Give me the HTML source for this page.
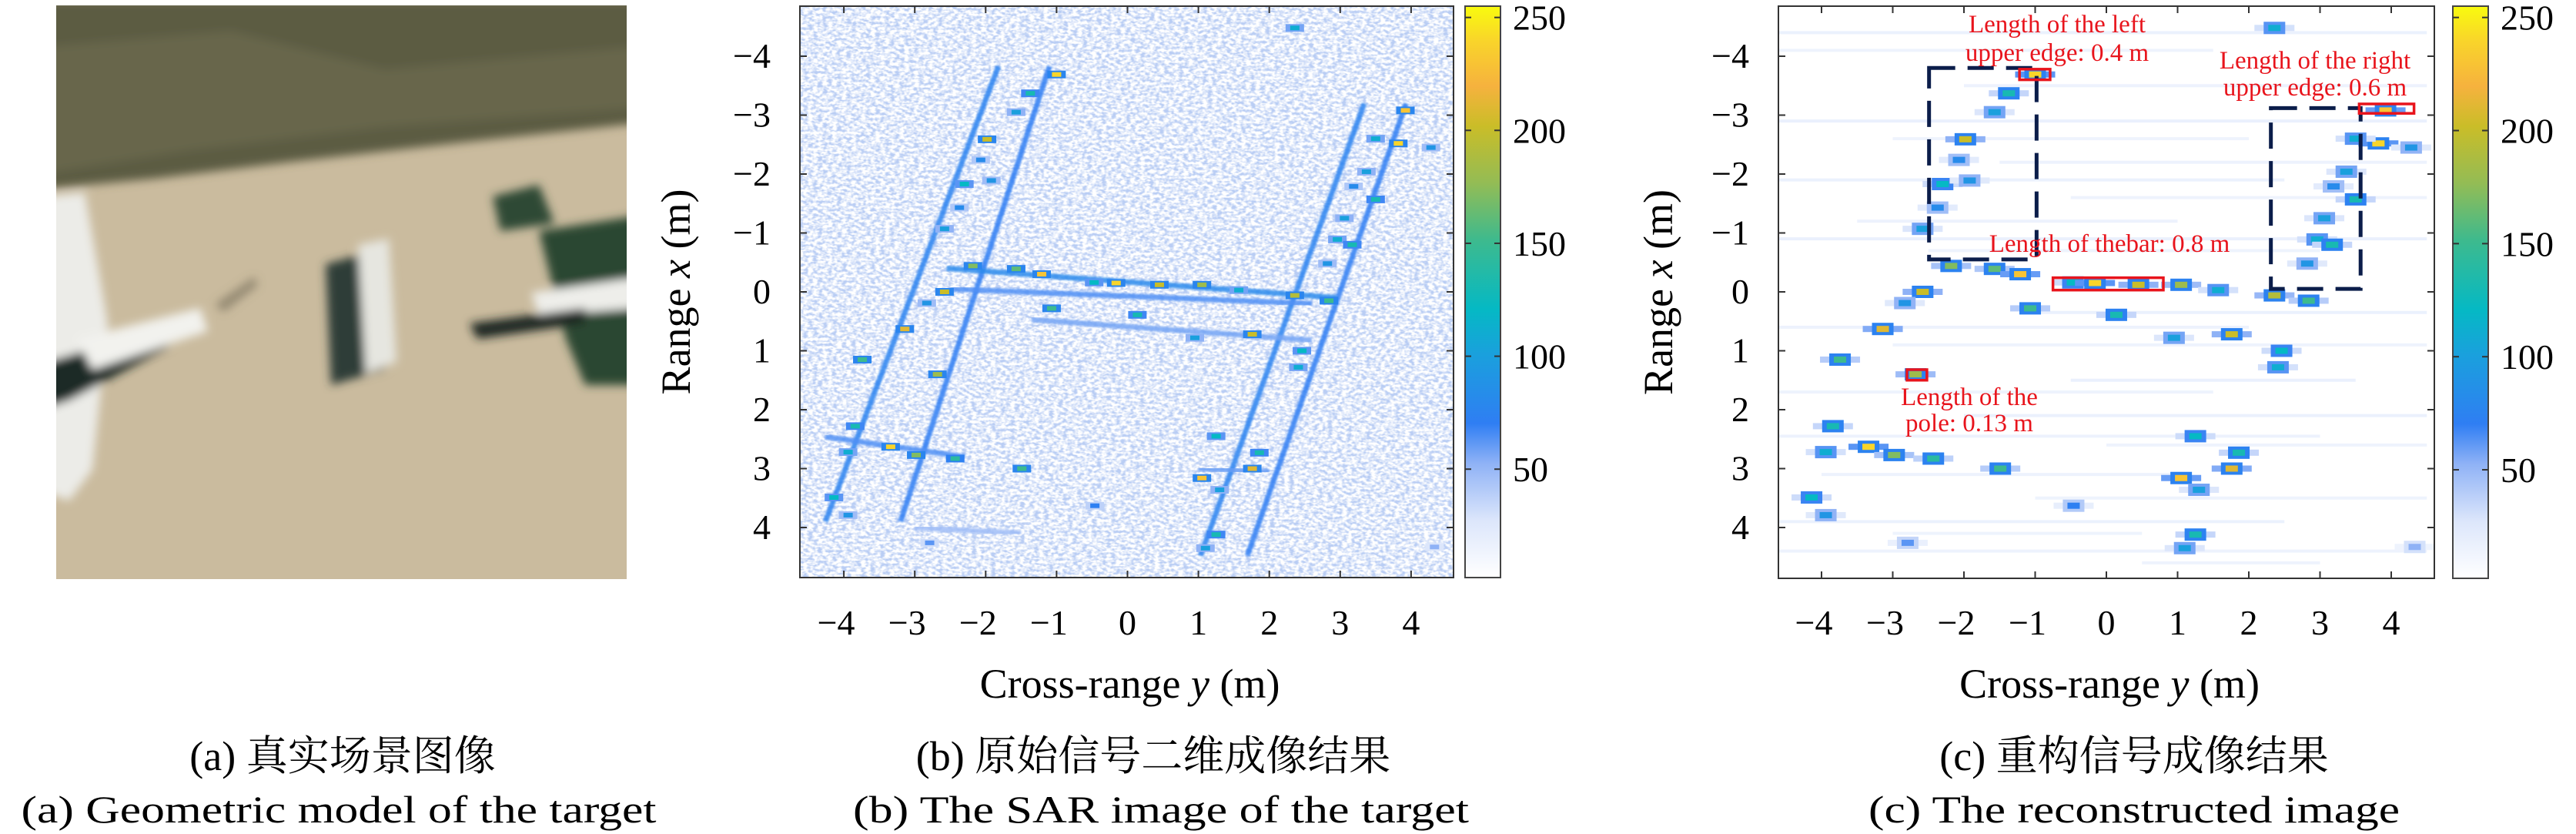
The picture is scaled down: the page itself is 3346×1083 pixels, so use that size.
<!DOCTYPE html>
<html><head><meta charset="utf-8">
<style>
html,body{margin:0;padding:0;background:#fff;}
body{width:3346px;height:1083px;overflow:hidden;position:relative;font-family:"Liberation Serif","Noto Serif CJK SC",serif;}
svg{position:absolute;left:0;top:0;}
svg text{font-family:"Liberation Serif","Noto Serif CJK SC",serif;}
</style></head>
<body>
<svg id="fig" width="3346" height="1083" viewBox="0 0 3346 1083" xmlns="http://www.w3.org/2000/svg" font-family="Liberation Serif, Noto Serif CJK SC, serif">
<defs>
  <filter id="noise" x="0" y="0" width="100%" height="100%">
    <feTurbulence type="fractalNoise" baseFrequency="0.16 0.28" numOctaves="2" seed="3"/>
    <feColorMatrix type="matrix" values="0 0 0 0 1  0 0 0 0 1  0 0 0 0 1  3.0 0 0 0 -0.9"/>
  </filter>
  <filter id="blur1"><feGaussianBlur stdDeviation="1.2"/></filter>
  <filter id="blur2"><feGaussianBlur stdDeviation="2"/></filter>
  <filter id="photoBlur"><feGaussianBlur stdDeviation="6"/></filter>
  <linearGradient id="cmapGrad" x1="0" y1="1" x2="0" y2="0">
    <stop offset="0" stop-color="#ffffff"/>
    <stop offset="0.1" stop-color="#dce6fb"/>
    <stop offset="0.2" stop-color="#8fb2f6"/>
    <stop offset="0.27" stop-color="#2f7ef3"/>
    <stop offset="0.39" stop-color="#1aa0dd"/>
    <stop offset="0.47" stop-color="#05b9c4"/>
    <stop offset="0.59" stop-color="#3dba8e"/>
    <stop offset="0.69" stop-color="#93bc55"/>
    <stop offset="0.79" stop-color="#cabd28"/>
    <stop offset="0.86" stop-color="#f6b23e"/>
    <stop offset="0.94" stop-color="#f9d52a"/>
    <stop offset="1" stop-color="#f9fb0e"/>
  </linearGradient>
  <clipPath id="clipB"><rect x="1039" y="8" width="849" height="742"/></clipPath>
  <clipPath id="clipC"><rect x="2310" y="8" width="852" height="743"/></clipPath>
  <clipPath id="clipA"><rect x="73" y="7" width="741" height="745"/></clipPath>
</defs>

<!-- (a) photo -->
<g clip-path="url(#clipA)">
  <rect x="73" y="7" width="741" height="745" fill="#cabb9e"/>
  <g filter="url(#photoBlur)">
  <polygon points="60,0 830,0 830,160 600,185 380,210 200,232 60,245" fill="#5b5c43"/>
  <polygon points="60,60 300,40 500,90 830,60 830,140 500,165 250,195 60,225" fill="#6c6b4f" opacity="0.7"/>
  <polygon points="60,255 110,250 140,420 120,610 90,650 60,640" fill="#ecece8"/>
  <polygon points="60,470 200,430 220,450 90,520 60,530" fill="#1f2a25"/>
  <polygon points="100,440 260,400 270,430 120,480" fill="#f2f2ee"/>
  <polygon points="423,343 490,325 500,480 430,500" fill="#2f3d38"/>
  <polygon points="465,318 505,310 515,470 475,485" fill="#e6e6e0"/>
  <polygon points="700,300 830,280 830,500 760,500 735,440" fill="#2c4633"/>
  <polygon points="640,255 700,240 720,290 650,300" fill="#2f4a36"/>
  <polygon points="690,380 830,360 830,400 700,410" fill="#eeeeea"/>
  <polygon points="610,420 760,400 760,420 620,440" fill="#1f2520"/>
  <polygon points="280,395 330,360 335,370 290,405" fill="#6d6552" opacity="0.6"/>
  </g>
</g>

<g id="plotB"></g>
<g id="plotC"></g>

<!-- colorbars -->
<g>
  <rect x="1903" y="8" width="46" height="742" fill="url(#cmapGrad)" stroke="#444" stroke-width="2"/>
</g>
<g>
  <rect x="3186" y="8" width="46" height="743" fill="url(#cmapGrad)" stroke="#444" stroke-width="2"/>
</g>
<g id="cbticks"></g>

<!-- captions -->
<g font-size="50" text-anchor="middle" fill="#000">
  <text x="445" y="1000" font-size="54">(a) 真实场景图像</text>
  <text x="440" y="1068" textLength="825" lengthAdjust="spacingAndGlyphs">(a) Geometric model of the target</text>
  <text x="1498" y="1000" font-size="54">(b) 原始信号二维成像结果</text>
  <text x="1508" y="1068" textLength="800" lengthAdjust="spacingAndGlyphs">(b) The SAR image of the target</text>
  <text x="2772" y="1000" font-size="54">(c) 重构信号成像结果</text>
  <text x="2772" y="1068" textLength="690" lengthAdjust="spacingAndGlyphs">(c) The reconstructed image</text>
</g>
</svg>

<script>
// ---- data ----
const xTicks = [-4,-3,-2,-1,0,1,2,3,4];           // cross-range y (m)
const yTicks = [-4,-3,-2,-1,0,1,2,3,4];           // range x (m)
const cbTicks = [50,100,150,200,250];
// structure segments in SAR image (b)
const segY0 = [-1.82,-1.1,3.34,3.93,-2.55,-2.5,-1.35,-4.26,1.0,-3.0];
const segX0 = [-3.83,-3.83,-3.2,-3.2,-0.40,-0.05,0.47,2.46,3.0,4.0];
const segY1 = [-4.26,-3.2,1.03,1.69,2.95,2.6,2.6,-2.29,2.0,-1.5];
const segX1 = [3.9,3.9,4.48,4.48,0.1,0.2,0.82,2.8,3.05,4.1];
const segVal = [72,68,72,68,78,62,55,62,58,45];
// bright scatterers: cross-range y, range x, amplitude
const spotY = [-1.0,2.36,-1.57,-1.37,-1.98,-2.07,-2.3,-1.92,-2.37,-2.58,-2.18,-1.57,-1.21,-2.58,-2.83,-3.14,-1.07,0.14,-0.47,-0.16,0.45,1.05,1.57,2.36,2.84,1.76,0.95,2.46,2.41,-3.74,-2.68,-3.84,-3.34,-2.98,-2.43,-3.94,-1.49,-4.14,-3.94,1.25,1.05,1.76,1.86,1.3,1.25,1.1,3.92,3.82,3.5,3.37,3.19,3.5,3.06,2.96,3.17,2.82,4.28,-0.46,-2.79,4.33];
const spotX = [-3.69,-4.48,-3.05,-3.37,-2.59,-2.24,-1.83,-1.89,-1.43,-1.07,-0.44,-0.39,-0.3,0.0,0.19,0.63,0.28,0.39,-0.16,-0.15,-0.12,-0.12,-0.03,0.06,0.15,0.72,0.78,1.0,1.28,1.15,1.4,2.28,2.63,2.77,2.83,2.72,3.0,3.49,3.79,2.45,3.16,3.0,2.73,3.36,4.12,4.35,-3.08,-2.52,-2.6,-2.04,-1.79,-1.57,-1.25,-0.89,-0.8,-0.48,-2.45,3.63,4.26,4.33];
const spotVal = [240,110,100,130,200,80,120,90,80,100,170,160,230,200,90,210,150,130,120,240,200,180,110,190,150,200,100,120,110,150,180,130,240,170,140,110,150,120,90,120,230,210,130,100,130,100,230,240,110,100,80,130,100,110,130,90,90,70,60,50];
// faint horizontal streaks in reconstructed image
const strY0 = [-4.6,-4.6,-2.0,-4.6,-3.0,-1.5,-4.6,-0.5,-3.5,-4.6,-2.5,-1.0,-4.6,-3.0,-0.5,-4.6,-2.0,-4.6,0.0,-4.0,-1.0,-4.6,-3.0,-4.6,0.5];
const strX0 = [-4.4,-4.1,-3.5,-2.9,-2.6,-2.2,-1.9,-1.6,-1.2,-0.9,-0.7,0.35,0.6,0.9,1.5,1.7,2.1,2.45,2.6,3.1,3.5,3.9,4.1,4.4,4.6];
const strY1 = [4.5,1.5,4.5,4.5,2.0,4.5,2.5,4.5,1.0,4.5,3.0,4.5,2.0,4.5,3.5,1.5,4.5,3.0,4.5,1.0,4.5,2.5,0.5,4.5,3.0];
const strVal = [14,12,13,15,12,13,14,12,13,15,12,14,13,12,15,12,14,13,12,13,12,14,12,13,12];
// annotation boxes (data coords)
const dashY0 = [-2.49,2.31], dashY1 = [-0.98,3.57], dashX0 = [-3.8,-3.12], dashX1 = [-0.55,-0.05];
const redY0 = [-1.22,3.55,-0.75,-2.8], redY1 = [-0.79,4.32,0.8,-2.52], redX0 = [-3.78,-3.19,-0.24,1.32], redX1 = [-3.6,-3.03,-0.03,1.5];

// ---- colormap ----
const cStops=[[0,[255,255,255]],[25,[220,230,251]],[50,[143,178,246]],[68,[47,126,243]],[100,[26,160,221]],[120,[5,185,196]],[150,[61,186,142]],[175,[147,188,85]],[200,[202,189,40]],[220,[246,178,62]],[240,[249,213,42]],[255,[249,251,14]]];
function cmap(v){v=Math.max(0,Math.min(255,v));for(let i=1;i<cStops.length;i++){if(v<=cStops[i][0]){const a=cStops[i-1],b=cStops[i];const t=(v-a[0])/(b[0]-a[0]);const c=a[1].map((q,k)=>Math.round(q+(b[1][k]-q)*t));return `rgb(${c[0]},${c[1]},${c[2]})`;}}return 'rgb(249,251,14)';}

const NS='http://www.w3.org/2000/svg';
function mk(tag,attrs,parent){const e=document.createElementNS(NS,tag);for(const k in attrs)e.setAttribute(k,attrs[k]);parent.appendChild(e);return e;}

function makeAxes(g,L,R,T,B,x0,xu,y0,yu,ylabX,ytitleX,clip,kind){
  const sx=v=>x0+xu*v, sy=v=>y0+yu*v;
  const content=mk('g',{'clip-path':`url(#${clip})`},g);
  
  
  const frame=mk('rect',{x:L,y:T,width:R-L,height:B-T,fill:'none',stroke:'#333','stroke-width':2},g);
  
  
  xTicks.forEach(t=>{
    const x=sx(t);
    mk('line',{x1:x,y1:B,x2:x,y2:B-9,stroke:'#333','stroke-width':2},g);
    mk('line',{x1:x,y1:T,x2:x,y2:T+9,stroke:'#333','stroke-width':2},g);
    const tx=mk('text',{x:x-(t<0?10:0),y:824,'font-size':46,'text-anchor':'middle'},g);
    tx.textContent=t<0?'\u2212'+(-t):String(t);
    
    
  });
  yTicks.forEach(t=>{
    const y=sy(t);
    mk('line',{x1:L,y1:y,x2:L+9,y2:y,stroke:'#333','stroke-width':2},g);
    mk('line',{x1:R,y1:y,x2:R-9,y2:y,stroke:'#333','stroke-width':2},g);
    const tx=mk('text',{x:ylabX,y:y+15,'font-size':46,'text-anchor':'end'},g);
    tx.textContent=t<0?'\u2212'+(-t):String(t);
    
    
  });
  const xt=mk('text',{x:(L+R)/2+4,y:906,'font-size':54,'text-anchor':'middle'},g);
  xt.innerHTML='Cross-range <tspan font-style="italic">y</tspan> (m)';
  
  
  const yt=mk('text',{x:0,y:0,'font-size':54,'text-anchor':'middle',transform:`translate(${ytitleX},${(T+B)/2}) rotate(-90)`},g);
  yt.innerHTML='Range <tspan font-style="italic">x</tspan> (m)';
  
  
  return {sx,sy,content};
}

// ---- plot (b) ----
(function(){
  const g=document.getElementById('plotB');
  const A=makeAxes(g,1039,1888,8,750,1464.5,92.1,379,76.5,1001,896,'clipB','sar');
  const c=A.content;
  mk('rect',{x:1039,y:8,width:849,height:742,fill:'#b9cdf4'},c);
  mk('rect',{x:1039,y:8,width:849,height:742,fill:'#fff',filter:'url(#noise)'},c);
  segY0.forEach((v,i)=>{
    const l=mk('line',{x1:A.sx(v),y1:A.sy(segX0[i]),x2:A.sx(segY1[i]),y2:A.sy(segX1[i]),stroke:cmap(segVal[i]),'stroke-width':7,'stroke-opacity':0.85,filter:'url(#blur1)'},c);
    
    
  });
  spotY.forEach((v,i)=>{
    const x=A.sx(v), y=A.sy(spotX[i]);
    mk('rect',{x:x-12,y:y-5,width:24,height:10,fill:cmap(Math.min(spotVal[i]*0.5,75))},c);
    const r=mk('rect',{x:x-6,y:y-3,width:12,height:6,fill:cmap(spotVal[i])},c);
    
    
  });
})();

// ---- plot (c) ----
(function(){
  const g=document.getElementById('plotC');
  const A=makeAxes(g,2310,3162,8,751,2736,92.5,379,76.5,2272,2172,'clipC','recon');
  const c=A.content;
  mk('rect',{x:2310,y:8,width:852,height:743,fill:'#fff'},c);
  strY0.forEach((v,i)=>{
    const x0=A.sx(v), x1=A.sx(strY1[i]);
    const r=mk('rect',{x:x0,y:A.sy(strX0[i])-2,width:x1-x0,height:4,fill:cmap(strVal[i])},c);
    
    
  });
  spotY.forEach((v,i)=>{
    const x=A.sx(v), y=A.sy(spotX[i]);
    mk('rect',{x:x-26,y:y-4,width:52,height:8,fill:cmap(spotVal[i]*0.25)},c);
    mk('rect',{x:x-14,y:y-8,width:28,height:16,fill:cmap(Math.min(spotVal[i]*0.55,72))},c);
    const r=mk('rect',{x:x-8,y:y-4,width:16,height:8,fill:cmap(spotVal[i])},c);
    
    
  });
  dashY0.forEach((v,i)=>{
    const r=mk('rect',{x:A.sx(v),y:A.sy(dashX0[i]),width:A.sx(dashY1[i])-A.sx(v),height:A.sy(dashX1[i])-A.sy(dashX0[i]),fill:'none',stroke:'#0b1d4a','stroke-width':5,'stroke-dasharray':'34 16'},g);
    
    
  });
  redY0.forEach((v,i)=>{
    const r=mk('rect',{x:A.sx(v),y:A.sy(redX0[i]),width:A.sx(redY1[i])-A.sx(v),height:A.sy(redX1[i])-A.sy(redX0[i]),fill:'none',stroke:'#e8141c','stroke-width':3.5},g);
    
    
  });
  const notes=[[2672,42,'Length of the left'],[2672,79,'upper edge: 0.4 m'],[3007,89,'Length of the right'],[3007,124,'upper edge: 0.6 m'],[2740,327,'Length of thebar: 0.8 m'],[2558,526,'Length of the'],[2558,560,'pole: 0.13 m']];
  notes.forEach(n=>{
    const t=mk('text',{x:n[0],y:n[1],'font-size':33,'text-anchor':'middle',fill:'#e8141c'},g);
    t.textContent=n[2];
    
    
  });
})();

// ---- colorbar ticks ----
(function(){
  const g=document.getElementById('cbticks');
  [[1903,1949,8,750],[3186,3232,8,751]].forEach((cb,j)=>{
    const sv=v=>cb[3]-(v-2)/(255-2)*(cb[3]-cb[2]);
    cbTicks.forEach(t=>{
      const y=sv(t);
      mk('line',{x1:cb[1],y1:y,x2:cb[1]-8,y2:y,stroke:'#333','stroke-width':2},g);
      mk('line',{x1:cb[0],y1:y,x2:cb[0]+8,y2:y,stroke:'#333','stroke-width':2},g);
      const tx=mk('text',{x:cb[1]+16,y:y+16,'font-size':46},g);
      tx.textContent=String(t);
      
      
    });
  });
})();
</script>
</body></html>
